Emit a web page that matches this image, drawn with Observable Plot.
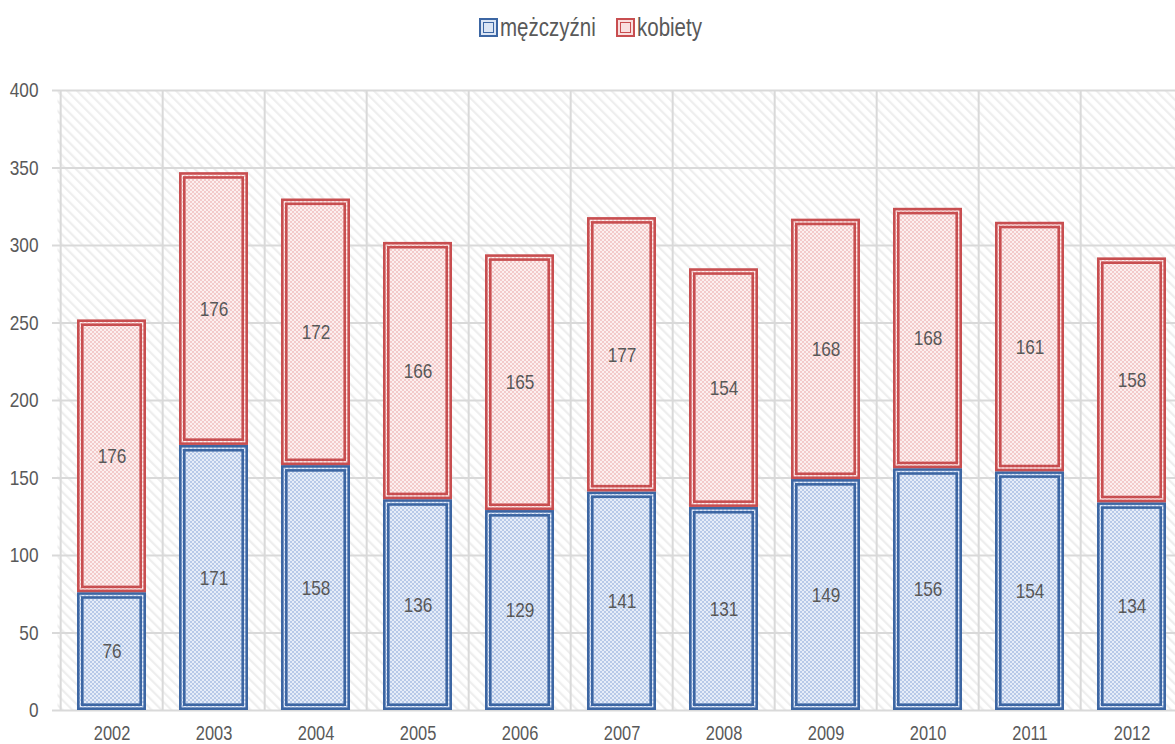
<!DOCTYPE html>
<html><head><meta charset="utf-8">
<script src="https://cdn.jsdelivr.net/npm/d3@7"></script>
<script src="https://cdn.jsdelivr.net/npm/@observablehq/plot@0.6"></script>
<style>
html,body{margin:0;padding:0;background:#fff;overflow:hidden;}
body{width:1175px;height:744px;font-family:"Liberation Sans",Arial,sans-serif;}
#legend{height:55px;display:flex;justify-content:center;align-items:center;gap:20px;font-size:25px;color:#595959;padding-left:6px;box-sizing:border-box;}
.item{display:flex;align-items:center;gap:2px;}
.sw{width:15px;height:15px;border:2px solid;padding:0;position:relative;}
.sw i{position:absolute;left:2px;top:2px;right:2px;bottom:2px;border:1.5px solid;}
.lbl{display:inline-block;white-space:nowrap;}
.lbl span{display:inline-block;transform-origin:0 50%;}
</style></head>
<body>
<div id="legend"></div>
<div id="chart"></div>
<script>
const years = ["2002","2003","2004","2005","2006","2007","2008","2009","2010","2011","2012"];
const seriesNames = ["mężczyźni","kobiety"];
const men = [76,171,158,136,129,141,131,149,156,154,134];
const women = [176,176,172,166,165,177,154,168,168,161,158];
const yTicks = [0,50,100,150,200,250,300,350,400];

const strokes = {"mężczyźni":"#3c66a3","kobiety":"#c84e50"};
const fills = {"mężczyźni":"url(#pBlue)","kobiety":"url(#pRed)"};

const data = [];
years.forEach((y,i)=>{ data.push({year:y, series:seriesNames[0], value:men[i]}); });
years.forEach((y,i)=>{ data.push({year:y, series:seriesNames[1], value:women[i]}); });

const W = 1175, H = 689;
const rangeL = 57, rangeR = 1186;
const step = (rangeR-rangeL)/years.length;
const SQ = 0.82;

const plot = Plot.plot({
  width: W, height: H,
  marginLeft: 57, marginRight: 0, marginTop: 35, marginBottom: 34,
  style: {fontFamily: '"Liberation Sans",Arial,sans-serif', fontSize: "21px", color:"#595959", background:"transparent", overflow:"visible"},
  x: {domain: years, range:[rangeL, rangeR], paddingInner: 0.32, paddingOuter: 0.16, align: 0.5, label: null},
  y: {domain: [0,400], label: null},
  marks: [
    Plot.frame({fill:"url(#pHatch)", stroke:null}),
    Plot.gridY(yTicks, {stroke:"#d9d9d9", strokeOpacity:1, strokeWidth:2}),
    Plot.ruleX(years, {x: d=>d, dx: -step/2, stroke:"#d9d9d9", strokeWidth:2}),
    Plot.ruleX(["2012"], {x: d=>d, dx: step/2, stroke:"#d9d9d9", strokeWidth:2}),
    Plot.axisY(yTicks, {tickSize:5, tickPadding:14, stroke:"#d9d9d9", strokeWidth:2, fill:"#595959", fontSize:21, label:null}),
    Plot.axisX({tickSize:0, tickPadding:15, fill:"#595959", fontSize:20, label:null}),
    Plot.barY(data, Plot.stackY({x:"year", y:"value", z:"series", fill: d=>fills[d.series], stroke: d=>strokes[d.series], strokeWidth:2.6, inset:1.3})),
    Plot.barY(data, Plot.stackY({x:"year", y:"value", z:"series", fill: "none", stroke: d=>strokes[d.series], strokeWidth:2.6, inset:5.3})),
    Plot.text(data, Plot.stackY({x:"year", y:"value", z:"series", text: d=>String(d.value), fill:"#595959", fontSize:21}))
  ]
});

const ns = "http://www.w3.org/2000/svg";
const defs = document.createElementNS(ns,"defs");
defs.innerHTML = `
<pattern id="pHatch" width="7" height="7" patternUnits="userSpaceOnUse" patternTransform="rotate(-45)">
  <rect width="7" height="7" fill="#ffffff"/>
  <rect x="0" y="0" width="2.2" height="7" fill="#eeeeee"/>
</pattern>
<pattern id="pBlue" width="4" height="4" patternUnits="userSpaceOnUse">
  <rect width="4" height="4" fill="#e6edf8"/>
  <rect x="0" y="0" width="2" height="2" fill="#b7c9e8"/>
  <rect x="2" y="2" width="2" height="2" fill="#b7c9e8"/>
</pattern>
<pattern id="pRed" width="4" height="4" patternUnits="userSpaceOnUse">
  <rect width="4" height="4" fill="#fcefef"/>
  <rect x="0" y="0" width="2" height="2" fill="#f3caca"/>
  <rect x="2" y="2" width="2" height="2" fill="#f3caca"/>
</pattern>`;
plot.insertBefore(defs, plot.firstChild);
document.getElementById("chart").appendChild(plot);

// condense text horizontally to mimic a narrow font
plot.querySelectorAll("text").forEach(t=>{
  const targets = t.querySelectorAll("tspan").length ? t.querySelectorAll("tspan") : [t];
  targets.forEach(el=>{
    const len = el.getComputedTextLength();
    if (len > 0) { el.setAttribute("textLength", (len*SQ).toFixed(2)); el.setAttribute("lengthAdjust","spacingAndGlyphs"); }
  });
});

const lg = document.getElementById("legend");
seriesNames.forEach(s=>{
  const it = document.createElement("div"); it.className="item";
  const sw = document.createElement("div"); sw.className="sw";
  sw.style.borderColor = strokes[s];
  sw.style.background = s===seriesNames[0] ? "#dbe5f4" : "#f9e0e0";
  const inner = document.createElement("i"); inner.style.borderColor = strokes[s];
  sw.appendChild(inner);
  const t = document.createElement("div"); t.className="lbl";
  const sp = document.createElement("span"); sp.textContent = s; t.appendChild(sp);
  it.appendChild(sw); it.appendChild(t); lg.appendChild(it);
});
lg.querySelectorAll(".lbl").forEach(l=>{
  const sp = l.firstChild; const w = sp.getBoundingClientRect().width;
  l.style.width = (w*SQ).toFixed(1)+"px";
  sp.style.transform = `scaleX(${SQ})`;
});
</script>
</body></html>
